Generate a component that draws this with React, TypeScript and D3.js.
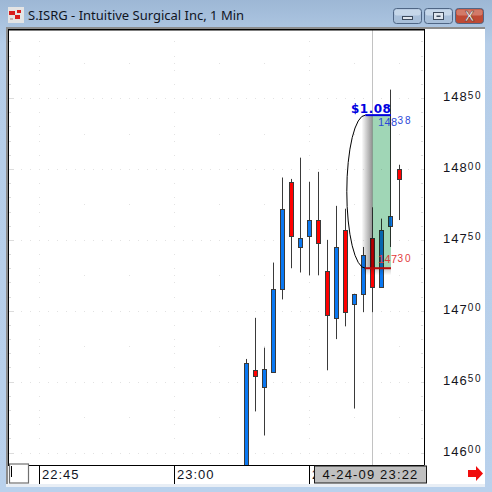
import React from "react";
import * as d3 from "d3";

const minutes = [8, 9, 10, 11, 12, 13, 14, 15, 16, 17, 18, 19, 20, 21, 22, 23, 24, 25];
const opens = [14590, 14658, 14646, 14657, 14715, 14791, 14745, 14753, 14764, 14728, 14695, 14757, 14705, 14712, 14751, 14717, 14760, 14800];
const highs = [14666, 14695, 14674, 14734, 14794, 14793, 14808, 14791, 14798, 14750, 14774, 14772, 14712, 14745, 14773, 14765, 14856, 14803];
const lows = [14585, 14629, 14612, 14657, 14708, 14730, 14727, 14725, 14725, 14658, 14680, 14689, 14631, 14699, 14699, 14717, 14745, 14764];
const closes = [14663, 14654, 14659, 14715, 14772, 14753, 14751, 14764, 14748, 14697, 14745, 14699, 14712, 14739, 14717, 14757, 14767, 14793];
const priceLabels = [14850, 14800, 14750, 14700, 14650, 14600];
const timeLabels = [{ m: -15, t: "22:45" }, { m: 0, t: "23:00" }, { m: 15, t: "2" }];
const cursorMinute = 22;
const cursorLabel = "4-24-09 23:22";
const bracketHigh = 14838;
const bracketLow = 14730;
const bracketStart = 21.2;
const bracketEnd = 24.05;
const bracketText = "$1.08";
const title = "S.ISRG - Intuitive Surgical Inc, 1 Min";

const LEFT = 8, RIGHT = 424.5, TOP = 29, BOTTOM = 465;
const x = d3.scaleLinear().domain([0, 15]).range([174.5, 309.5]);
const y = d3.scaleLinear().domain([14600, 14800]).range([452.5, 169]);
const UP = "#0a78f2", DOWN = "#ff0000", EDGE = "#3a3a3a";
const SANS = "'Liberation Sans', Arial, sans-serif";
const DOT = "#e2e2e2";

const gridPrices = d3.range(14590, 14900, 10);
const majorPrices = gridPrices.filter((p) => p % 50 === 0);
const midPrices = gridPrices.filter((p) => p % 50 === 30);

function Priced({ p, px, py, fill, big, small, ls, sls, rise }: any) {
  const s = String(p);
  return (
    <text x={px} y={py} fontFamily={SANS} fontSize={big} letterSpacing={ls} fill={fill}>
      {s.slice(0, 3)}
      <tspan fontSize={small} dy={-rise} letterSpacing={sls}>{s.slice(3)}</tspan>
    </text>
  );
}

function WinButton({ bx, w, fill, fill2, children }: any) {
  return (
    <g>
      <rect x={bx + 0.5} y={8.5} width={w} height={15} rx={3} fill={fill} stroke="#4f6685" />
      <rect x={bx + 1.5} y={9.5} width={w - 2} height={6} rx={2} fill={fill2} opacity={0.65} />
      {children}
    </g>
  );
}

export default function App() {
  document.body.style.margin = "0";
  const yH = y(bracketHigh), yL = y(bracketLow);
  const xc = x(cursorMinute);
  const xStart = x(bracketStart), xEnd = x(bracketEnd);
  const rx = 18.5;
  const arc = `M${xStart},${yL} A${rx},${(yL - yH) / 2} 0 0 1 ${xStart},${yH}`;
  return (
    <svg width={492} height={492} style={{ position: "fixed", left: 0, top: 0, display: "block" }}>
      <defs>
        <linearGradient id="win" x1="0" y1="0" x2="0" y2="1">
          <stop offset="0" stopColor="#9db7d5" />
          <stop offset="0.09" stopColor="#b5cde8" />
          <stop offset="1" stopColor="#b9d1ec" />
        </linearGradient>
        <linearGradient id="shade" x1="0" y1="0" x2="1" y2="0">
          <stop offset="0" stopColor="#8a8a8a" stopOpacity="0" />
          <stop offset="1" stopColor="#8a8a8a" stopOpacity="0.95" />
        </linearGradient>
        <linearGradient id="below" x1="0" y1="0" x2="0" y2="1">
          <stop offset="0" stopColor="#808080" stopOpacity="0.4" />
          <stop offset="1" stopColor="#808080" stopOpacity="0" />
        </linearGradient>
        <clipPath id="plot"><rect x={LEFT} y={TOP} width={RIGHT - LEFT} height={BOTTOM - TOP} /></clipPath>
      </defs>
      <rect width={492} height={492} fill="url(#win)" />

      {/* title bar */}
      <rect x={8} y={7} width={16} height={16} fill="#e4e4e4" />
      <rect x={9} y={11} width={6} height={4} fill="#d81c1c" />
      <rect x={17} y={10} width={4} height={3} fill="#d81c1c" />
      <rect x={15} y={15} width={5} height={4} fill="#d81c1c" />
      <rect x={10} y={18} width={3} height={2} fill="#c9b0b0" />
      <text x={28} y={20} fontFamily="'Noto Sans', sans-serif" fontSize={13} fill="#10151f">{title}</text>
      <WinButton bx={393} w={28} fill="#a9c0da" fill2="#d6e3f1">
        <rect x={402.5} y={16.5} width={10} height={3} fill="#dfe6ee" stroke="#3c4a5c" />
      </WinButton>
      <WinButton bx={424} w={28} fill="#a9c0da" fill2="#d6e3f1">
        <rect x={433.5} y={12.5} width={10} height={7} fill="#dfe6ee" stroke="#3c4a5c" />
        <rect x={436.5} y={15.5} width={4} height={1.5} fill="#3c4a5c" />
      </WinButton>
      <WinButton bx={455} w={28} fill="#bf4a34" fill2="#dc9484">
        <text x={469.5} y={21} textAnchor="middle" fontFamily={SANS} fontWeight="bold" fontSize={14} fill="#f3f3f3" stroke="#5c2a22" strokeWidth={0.5}>X</text>
      </WinButton>

      {/* client area */}
      <rect x={6} y={27} width={479} height={460} fill="#ffffff" />
      <rect x={6} y={27} width={479} height={2} fill="#8c8c8c" />
      <rect x={6} y={27} width={2} height={457} fill="#8c8c8c" />

      {/* grid */}
      <g clipPath="url(#plot)">
        {gridPrices.map((p) => (
          <g key={p}>
            <rect x={9} y={Math.round(y(p))} width={p % 50 === 0 ? 5 : 2} height={1} fill="#dcdcdc" />
            <rect x={421} y={Math.round(y(p))} width={p % 50 === 0 ? 3 : 2} height={1} fill="#dcdcdc" />
            {timeLabels.map((t) => (
              <rect key={t.m} x={x(t.m) - 0.5} y={Math.round(y(p))} width={1} height={1} fill={DOT} />
            ))}
          </g>
        ))}
        {majorPrices.map((p) =>
          d3.range(-17, 27).map((m) => (
            <rect key={`${p}-${m}`} x={x(m) - 0.5} y={Math.round(y(p))} width={1} height={1} fill={DOT} />
          ))
        )}
        {midPrices.map((p) =>
          d3.range(-15, 30, 5).map((m) => (
            <rect key={`${p}-${m}`} x={x(m) - 0.5} y={Math.round(y(p - 5))} width={1} height={1} fill={DOT} />
          ))
        )}
        {/* cursor */}
        <rect x={xc - 0.5} y={TOP} width={1} height={BOTTOM - TOP} fill="#c2c2c2" />

        {/* candles */}
        {minutes.map((m, i) => {
          const cx = x(m);
          const top = y(Math.max(opens[i], closes[i]));
          const bot = y(Math.min(opens[i], closes[i]));
          const up = closes[i] >= opens[i];
          return (
            <g key={m}>
              <rect x={cx - 0.5} y={y(highs[i])} width={1} height={y(lows[i]) - y(highs[i])} fill={EDGE} />
              <rect x={cx - 2} y={Math.round(top) + 0.5} width={4} height={Math.round(bot) - Math.round(top)} fill={up ? UP : DOWN} stroke={EDGE} strokeWidth={1} />
            </g>
          );
        })}

        {/* measurement overlay */}
        <g style={{ mixBlendMode: "multiply" }}>
          <rect x={xc - 11} y={yH} width={11} height={yL - yH} fill="url(#shade)" />
          <rect x={xc} y={yH} width={x(bracketEnd) - xc} height={yL - yH} fill="#a0d6b6" />
          <rect x={xc - 9} y={yL} width={x(bracketEnd) - xc + 9} height={7} fill="url(#below)" />
        </g>
        <path d={arc} fill="none" stroke="#000000" strokeWidth={1} />
        <line x1={xStart} x2={xEnd} y1={yH} y2={yH} stroke="#0000dd" strokeWidth={2} />
        <line x1={xStart} x2={xEnd} y1={yL} y2={yL} stroke="#bb0a0a" strokeWidth={2} />
      </g>

      {/* frame */}
      <rect x={LEFT} y={TOP} width={RIGHT - LEFT - 0.5} height={1.5} fill="#000000" />
      <rect x={RIGHT - 0.5} y={TOP} width={1} height={BOTTOM - TOP} fill="#000000" />
      <rect x={LEFT} y={TOP} width={1} height={BOTTOM - TOP} fill="#000000" />
      <rect x={LEFT} y={BOTTOM} width={RIGHT - LEFT} height={1} fill="#000000" />

      {/* overlay labels */}
      <text x={351} y={113} fontFamily="'DejaVu Sans', sans-serif" fontWeight="bold" fontSize={12} letterSpacing={0.5} fill="#0000e0">{bracketText}</text>
      <Priced p={bracketHigh} px={378} py={y(bracketHigh) + 10.5} fill="#2a48d8" big={11} small={10} ls={0.4} sls={2} rise={1.5} />
      <Priced p={bracketLow} px={378} py={y(bracketLow) - 5} fill="#e23a3a" big={11} small={10} ls={0.4} sls={2} rise={1} />

      {/* price axis */}
      {priceLabels.map((p) => (
        <Priced key={p} p={p} px={443} py={y(p) + 3} fill="#141420" big={13} small={10} ls={1} sls={1.8} rise={2.5} />
      ))}

      {/* time axis */}
      {timeLabels.map((t) => (
        <g key={t.m}>
          <rect x={x(t.m) - 0.5} y={BOTTOM} width={1} height={19} fill="#000000" />
          <text x={x(t.m) + 2.5} y={478.5} fontFamily={SANS} fontSize={13} letterSpacing={1} fill="#10131f">{t.t}</text>
        </g>
      ))}
      <rect x={9.5} y={464} width={19} height={19} fill="#ffffff" stroke="#707070" strokeWidth={1.2} />
      <rect x={11} y={466} width={1} height={11} fill="#000000" />
      <rect x={314.5} y={466} width={112} height={17} fill="#c0c0c0" stroke="#1a1a1a" strokeWidth={1} />
      <text x={322.5} y={478.5} fontFamily={SANS} fontSize={13} letterSpacing={1.15} fill="#101010">{cursorLabel}</text>

      {/* arrow */}
      <path d="M468,470 H476 V466 L483,473.5 L476,481 V477 H468 Z" fill="#f00c0c" />
      <rect x={6} y={484} width={479} height={3} fill="#e8eef5" />
    </svg>
  );
}
